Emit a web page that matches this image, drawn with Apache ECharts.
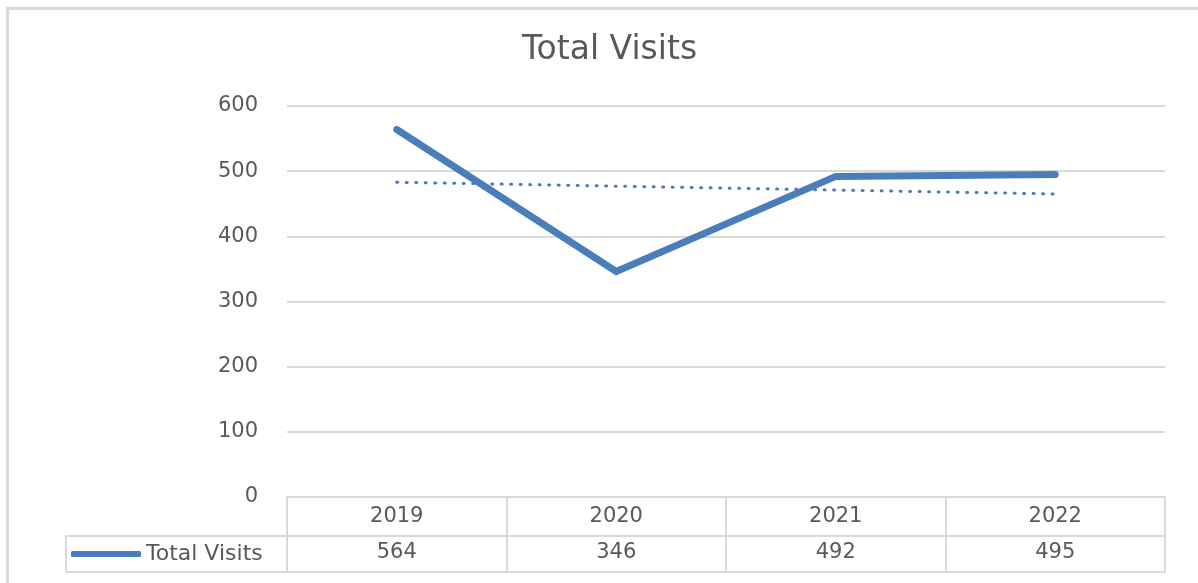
<!DOCTYPE html>
<html>
<head>
<meta charset="utf-8">
<title>Total Visits</title>
<script src="https://cdn.jsdelivr.net/npm/echarts@6/dist/echarts.min.js"></script>
<style>
  html, body { margin: 0; padding: 0; background: #fff; }
  #chart { width: 1198px; height: 583px; }
</style>
</head>
<body>
<div id="chart"></div>
<script>
// data
const years = ['2019', '2020', '2021', '2022']
const visits = [564, 346, 492, 495]
// dotted linear trendline
const trend = [483, 477, 471, 465]
const yTicks = { min: 0, max: 600, interval: 100 }

const lineColor = '#4a7ebb'
const gridColor = '#d9d9d9'
const textColor = '#595959'
const font = 'DejaVu Sans'

const chart = echarts.init(document.getElementById('chart'))

const option = {
  animation: false,
  title: {
    text: 'Total Visits',
    left: 517,
    top: 29,
    textStyle: { fontFamily: font, fontSize: 33, fontWeight: 'normal', color: textColor }
  },
  legend: {
    data: ['Total Visits'],
    left: 66,
    top: 538,
    icon: 'roundRect',
    itemWidth: 70,
    itemHeight: 6,
    itemGap: 0,
    textStyle: { fontFamily: font, fontSize: 22, color: textColor }
  },
  grid: { left: 287, right: 33, top: 106, bottom: 86 },
  xAxis: [
    {
      type: 'category',
      data: years,
      boundaryGap: true,
      position: 'bottom',
      axisLine: { lineStyle: { color: gridColor, width: 2 } },
      axisTick: { show: true, length: 75, interval: 0, lineStyle: { color: gridColor, width: 2 } },
      axisLabel: { margin: 9, fontFamily: font, fontSize: 21, color: textColor, interval: 0 }
    },
    {
      type: 'category',
      data: visits.map(String),
      boundaryGap: true,
      position: 'bottom',
      offset: 39,
      axisLine: { lineStyle: { color: gridColor, width: 2 } },
      axisTick: { show: false },
      axisLabel: { margin: 6, fontFamily: font, fontSize: 21, color: textColor, interval: 0 }
    }
  ],
  yAxis: {
    type: 'value',
    min: yTicks.min,
    max: yTicks.max,
    interval: yTicks.interval,
    axisLine: { show: false },
    axisTick: { show: false },
    axisLabel: { margin: 29, fontFamily: font, fontSize: 21, color: textColor },
    splitLine: { lineStyle: { color: gridColor, width: 2 } }
  },
  series: [
    {
      name: 'Total Visits',
      type: 'line',
      data: visits,
      showSymbol: false,
      symbol: 'none',
      itemStyle: { color: lineColor },
      lineStyle: { color: lineColor, width: 7, cap: 'round', join: 'miter' }
    },
    {
      name: 'Trend',
      type: 'line',
      data: trend,
      symbol: 'none',
      z: 3,
      lineStyle: { color: lineColor, width: 3, type: [1, 8.5], cap: 'round' }
    }
  ],
  graphic: [
    // outer chart frame (right and bottom edges fall outside the page)
    {
      type: 'rect',
      shape: { x: 7.5, y: 8.5, width: 1300, height: 700 },
      style: { fill: 'none', stroke: gridColor, lineWidth: 3 },
      silent: true
    },
    // bottom row of the data table (legend cell + values)
    {
      type: 'rect',
      shape: { x: 66, y: 536, width: 1099, height: 36 },
      style: { fill: 'none', stroke: gridColor, lineWidth: 2 },
      silent: true
    }
  ]
}

chart.setOption(option)
window.addEventListener('resize', () => chart.resize())
</script>
</body>
</html>
